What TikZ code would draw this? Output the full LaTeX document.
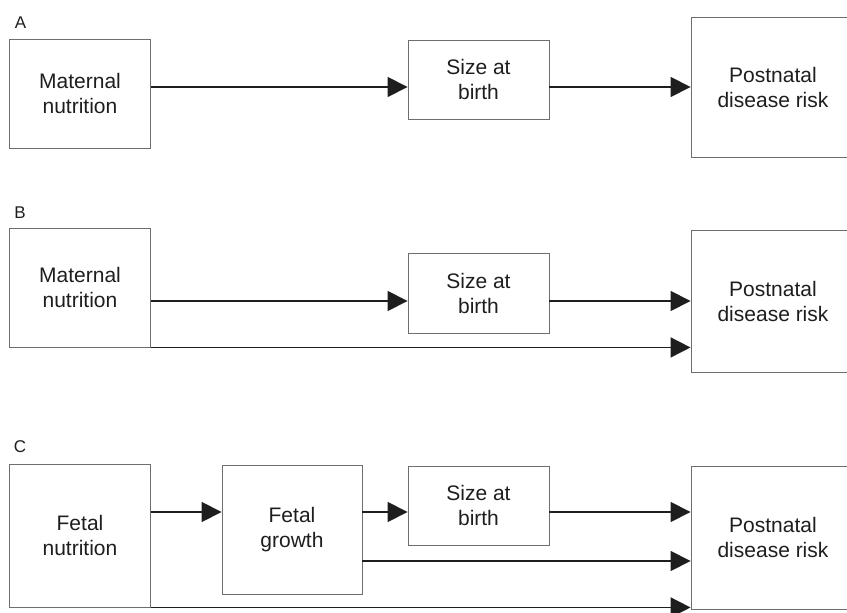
\documentclass[tikz,border=0pt]{standalone}
\usepackage{fontspec}
\setmainfont{Liberation Sans}
\usetikzlibrary{arrows.meta, positioning}
\definecolor{boxgrey}{RGB}{110, 110, 110}
\definecolor{inkblack}{RGB}{30, 30, 30}
\tikzset{
  factor/.style={draw=boxgrey, line width=0.9pt, inner sep=0pt, align=center,
    text=inkblack, font=\fontsize{21}{25}\selectfont},
  link/.style={draw=inkblack, line width=1.6pt, -{Triangle[length=20pt, width=20pt]}},
  panel/.style={font=\fontsize{17}{20}\selectfont, text=inkblack}
}

\begin{document}
\begin{tikzpicture}[x=1pt, y=-1pt]
  \useasboundingbox (0,0) rectangle (847,613);
  \clip (0,0) rectangle (847,613);

  % Panel A
  \node[panel] (labA) at (20.5,23) {A};
  \node[factor, minimum width=141pt, minimum height=109pt] (matA) at (80,93.5) {Maternal\\nutrition};
  \node[factor, minimum width=141pt, minimum height=79pt] (sizeA) at (478.5,79.5) {Size at\\birth};
  \node[factor, minimum width=164pt, minimum height=140pt] (postA) at (773,87) {Postnatal\\disease risk};
  \draw[link] (matA.east |- postA.west) -- (sizeA.west |- postA.west);
  \draw[link] (sizeA.east |- postA.west) -- (postA.west);

  % Panel B
  \node[panel] (labB) at (20,213) {B};
  \node[factor, minimum width=141pt, minimum height=119pt] (matB) at (80,287.5) {Maternal\\nutrition};
  \node[factor, minimum width=141pt, minimum height=80pt] (sizeB) at (478.5,293) {Size at\\birth};
  \node[factor, minimum width=164pt, minimum height=142pt] (postB) at (773,301) {Postnatal\\disease risk};
  \draw[link] (matB.east |- postB.west) -- (sizeB.west |- postB.west);
  \draw[link] (sizeB.east |- postB.west) -- (postB.west);
  \draw[link] (matB.south east) -- (postB.west |- matB.south east);

  % Panel C
  \node[panel] (labC) at (20,447) {C};
  \node[factor, minimum width=141pt, minimum height=143pt] (fnut) at (80,535.5) {Fetal\\nutrition};
  \node[factor, minimum width=140pt, minimum height=129pt] (fgro) at (292,529.5) {Fetal\\growth};
  \node[factor, minimum width=141pt, minimum height=79pt] (sizeC) at (478.5,505.5) {Size at\\birth};
  \node[factor, minimum width=164pt, minimum height=143pt] (postC) at (773,537.5) {Postnatal\\disease risk};
  \coordinate (midC) at (0,512);
  \coordinate (lowC) at (0,561);
  \draw[link] (fnut.east |- midC) -- (fgro.west |- midC);
  \draw[link] (fgro.east |- midC) -- (sizeC.west |- midC);
  \draw[link] (sizeC.east |- midC) -- (postC.west |- midC);
  \draw[link] (fgro.east |- lowC) -- (postC.west |- lowC);
  \draw[link] (fnut.south east) -- (postC.west |- fnut.south east);
\end{tikzpicture}
\end{document}
